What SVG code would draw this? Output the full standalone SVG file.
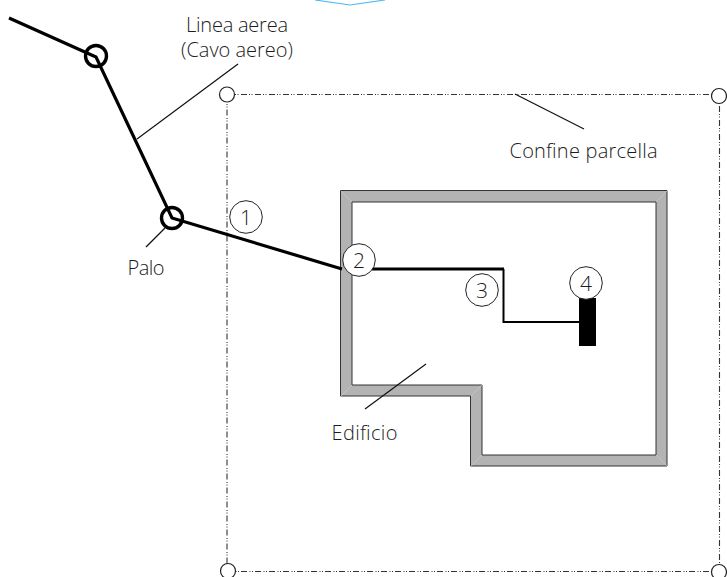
<svg xmlns="http://www.w3.org/2000/svg" width="727" height="577" viewBox="0 0 727 577">
<style>
text{font-family:"Open Sans","Noto Sans",sans-serif;font-weight:300;font-size:20px;fill:#1c1c1c;text-anchor:middle}
.n{font-size:21px}
.lead{fill:none;stroke:#111;stroke-width:1.2}
.heavy{fill:none;stroke:#000;stroke-width:3.2}
.thin{fill:none;stroke:#000;stroke-width:2}
.ring{fill:none;stroke:#000;stroke-width:3.4}
.num{fill:#fff;stroke:#222;stroke-width:1}
.corner{fill:#fff;stroke:#222;stroke-width:1.2}
.bound{fill:none;stroke:#333;stroke-width:1.1;stroke-dasharray:6 2 1 1.500 1 2.500}
.mitre{fill:none;stroke:#ccc;stroke-width:.7}
</style>
<rect width="727" height="577" fill="#fff"/>
<path d="M315,0 L350,5 L385,0" fill="none" stroke="#4db8f0" stroke-width="1.2"/>
<g id="parcel">
<path class="bound" d="M227,94.500H719.500V571.500H227Z"/>
<circle class="corner" cx="227" cy="94.500" r="7.500"/>
<circle class="corner" cx="719" cy="96" r="7.500"/>
<circle class="corner" cx="228" cy="571" r="7.500"/>
<circle class="corner" cx="719" cy="572" r="7.500"/>
</g>
<g id="building">
<path d="M340.500,190.500H667V466H470.500V396H340.500Z M352,202V385H482V455H656V202Z" fill="#b3b3b3" fill-rule="evenodd" stroke="#333" stroke-width="1"/>
<path class="mitre" d="M341,191L352,202M667,191L656,202M667,466L656,455M471,466L482,455M471,396L482,385M341,396L352,385"/>
</g>
<g id="connectors">
<path class="heavy" d="M9,18L96,57L172,218L342,269"/>
<path class="heavy" d="M372,269H504"/>
<path class="thin" d="M503.500,269V322H580"/>
<path class="lead" d="M137,139L238,64"/>
<path class="lead" d="M515,94L584,129"/>
<path class="lead" d="M165,228L146,247"/>
<path class="lead" d="M365,409L426,364"/>
</g>
<g id="pole-1"><circle class="ring" cx="96" cy="56" r="10.500"/></g>
<g id="pole-2"><circle class="ring" cx="172" cy="218" r="10.500"/></g>
<g id="meter"><rect x="579" y="298" width="17" height="48" fill="#000"/></g>
<g id="n1"><circle class="num" cx="246" cy="217" r="16.300"/><text class="n" x="246" y="224.500">1</text></g>
<g id="n2"><circle class="num" cx="359" cy="260" r="16.300"/><text class="n" x="359" y="267.500">2</text></g>
<g id="n3"><circle class="num" cx="482" cy="290" r="16.300"/><text class="n" x="482" y="297.500">3</text></g>
<g id="n4"><circle class="num" cx="586" cy="283" r="16.300"/><text class="n" x="586" y="290.500">4</text></g>
<g id="labels">
<text x="237" y="32" textLength="102">Linea aerea</text>
<text x="237" y="57" textLength="112">(Cavo aereo)</text>
<text x="146" y="275" textLength="37">Palo</text>
<text x="583.500" y="158" textLength="148">Confine parcella</text>
<text x="364.500" y="440" textLength="66">Edificio</text>
</g>
</svg>
